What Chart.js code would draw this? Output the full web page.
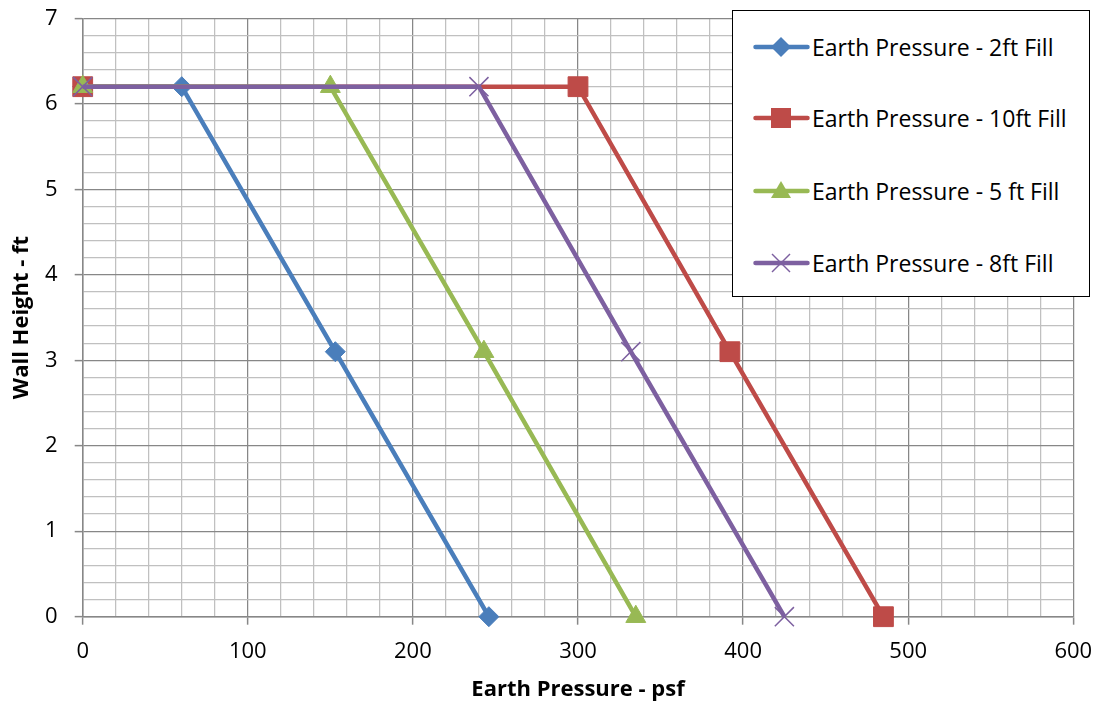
<!DOCTYPE html>
<html>
<head>
<meta charset="utf-8">
<script src="https://cdn.jsdelivr.net/npm/chart.js@4/dist/chart.umd.min.js"></script>
<style>
  html, body { margin: 0; padding: 0; background: #fff; }
  #wrap { position: relative; width: 1102px; height: 707px; }
  #legend {
    position: absolute; left: 732px; top: 10px; width: 356px; height: 285px;
    border: 1.5px solid #000; background: #fff; box-sizing: content-box;
    font-family: "Open Sans", sans-serif; font-size: 23px; color: #000;
  }
  .item { position: absolute; left: 20px; height: 30px; display: flex; align-items: center; white-space: nowrap; }
  .item svg { display: block; margin-right: 2px; }
</style>
</head>
<body>
<div id="wrap">
  <canvas id="c" width="1102" height="707"></canvas>
  <div id="legend"></div>
</div>
<script>
const seriesNames = ["Earth Pressure - 2ft Fill", "Earth Pressure - 10ft Fill", "Earth Pressure - 5 ft Fill", "Earth Pressure - 8ft Fill"];
const wallHeight = [6.2, 6.2, 3.1, 0];
const pressure2ft = [0, 60, 153, 246];
const pressure10ft = [0, 300, 392, 485];
const pressure5ft = [0, 150, 243, 335];
const pressure8ft = [0, 240, 332, 425];
const xTickLabels = [0, 100, 200, 300, 400, 500, 600];
const yTickLabels = [0, 1, 2, 3, 4, 5, 6, 7];

const colors = ["#4a7ebb", "#be4b48", "#98b954", "#7d60a0"];
const styles = ["rectRot", "rect", "triangle", "crossRot"];
const radii = [10, 14, 11.5, 13.5];
const allX = [pressure2ft, pressure10ft, pressure5ft, pressure8ft];

const datasets = allX.map((xs, i) => ({
  label: seriesNames[i],
  data: xs.map((x, j) => ({ x: x, y: wallHeight[j] })),
  borderColor: colors[i],
  backgroundColor: colors[i],
  borderWidth: 4.5,
  pointStyle: styles[i],
  pointRadius: radii[i],
  pointHoverRadius: radii[i],
  pointBorderWidth: i === 3 ? 1.5 : 1,
  pointBorderColor: colors[i],
  pointBackgroundColor: colors[i],
  showLine: true,
  tension: 0,
  clip: false,
  order: 4 - i
}));

const isMajor = (v, step) => Math.abs(v / step - Math.round(v / step)) < 1e-6;
const MAJOR = "#878787", MINOR = "#c0c0c0";
const zeroPad = s => { s.paddingTop = 0; s.paddingBottom = 0; s.paddingLeft = 0; s.paddingRight = 0; };

new Chart(document.getElementById("c"), {
  type: "scatter",
  data: { datasets },
  options: {
    responsive: false,
    animation: false,
    devicePixelRatio: 1,
    layout: { padding: { top: 18.3, right: 28.7, left: 0, bottom: 0 } },
    plugins: { legend: { display: false }, tooltip: { enabled: false } },
    scales: {
      x: {
        type: "linear", min: 0, max: 600,
        afterFit: s => { s.height = 90.3; zeroPad(s); },
        border: { color: MAJOR, width: 1.5 },
        grid: {
          color: ctx => isMajor(ctx.tick.value, 100) ? MAJOR : MINOR,
          tickColor: ctx => isMajor(ctx.tick.value, 100) ? MAJOR : "rgba(0,0,0,0)",
          lineWidth: 1.25, tickLength: 8, tickWidth: 1.5
        },
        ticks: {
          stepSize: 20, autoSkip: false, maxRotation: 0, padding: 14,
          color: "#000", font: { family: "Open Sans", size: 22 },
          callback: v => xTickLabels.includes(Math.round(v)) && isMajor(v, 100) ? String(Math.round(v)) : ""
        },
        title: {
          display: true, text: "Earth Pressure - psf", color: "#000",
          font: { family: "Open Sans", size: 22, weight: "bold" },
          padding: { top: 0, bottom: 4 }
        }
      },
      y: {
        type: "linear", min: 0, max: 7,
        afterFit: s => { s.width = 82.7; zeroPad(s); },
        border: { color: MAJOR, width: 1.5 },
        grid: {
          color: ctx => isMajor(ctx.tick.value, 1) ? MAJOR : MINOR,
          tickColor: ctx => isMajor(ctx.tick.value, 1) ? MAJOR : "rgba(0,0,0,0)",
          lineWidth: 1.25, tickLength: 8, tickWidth: 1.5
        },
        ticks: {
          stepSize: 0.2, autoSkip: false, padding: 17,
          color: "#000", font: { family: "Open Sans", size: 22 },
          callback: v => isMajor(v, 1) && yTickLabels.includes(Math.round(v)) ? String(Math.round(v)) : ""
        },
        title: {
          display: true, text: "Wall Height - ft", color: "#000",
          font: { family: "Open Sans", size: 22, weight: "bold" },
          padding: { top: 9, bottom: 0 }
        }
      }
    }
  }
});

// HTML legend
const legend = document.getElementById("legend");
const itemY = [35.7, 107, 180, 251.7];
function markerSVG(i) {
  const c = colors[i];
  let m = "";
  if (i === 0) m = `<polygon points="28,4 38,14 28,24 18,14" fill="${c}"/>`;
  if (i === 1) m = `<rect x="18" y="4" width="20" height="20" fill="${c}"/>`;
  if (i === 2) m = `<polygon points="28,4 38,21 18,21" fill="${c}"/>`;
  if (i === 3) m = `<line x1="19" y1="5" x2="37" y2="23" stroke="${c}" stroke-width="1.5"/><line x1="37" y1="5" x2="19" y2="23" stroke="${c}" stroke-width="1.5"/>`;
  return `<svg width="57" height="28" viewBox="0 0 57 28"><line x1="2.5" y1="14" x2="54.5" y2="14" stroke="${c}" stroke-width="4.5" stroke-linecap="round"/>${m}</svg>`;
}
seriesNames.forEach((name, i) => {
  const d = document.createElement("div");
  d.className = "item";
  d.style.top = (itemY[i] - 15) + "px";
  d.innerHTML = markerSVG(i) + `<span>${name}</span>`;
  legend.appendChild(d);
});
</script>
</body>
</html>
